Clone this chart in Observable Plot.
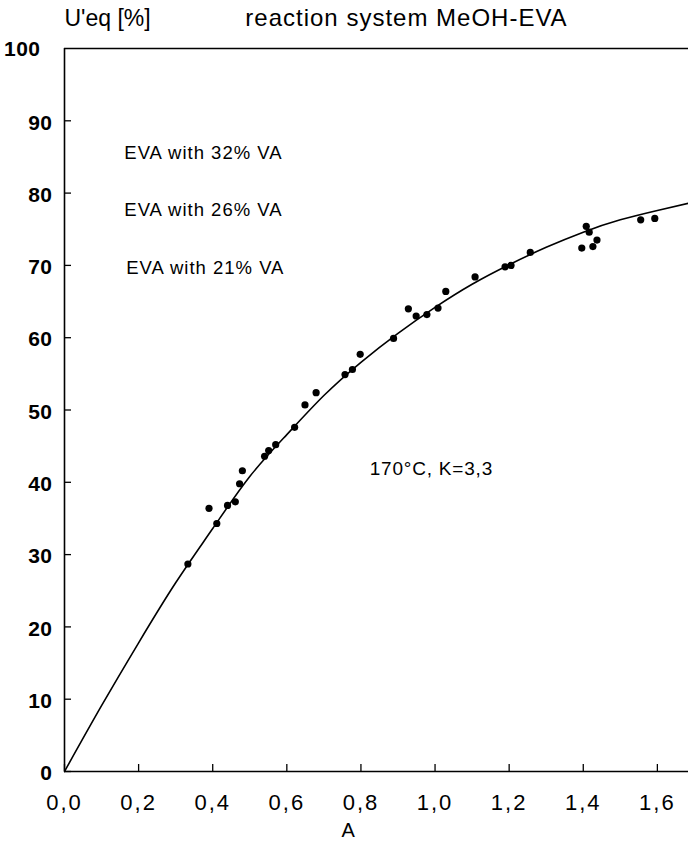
<!DOCTYPE html>
<html>
<head>
<meta charset="utf-8">
<script src="https://cdn.jsdelivr.net/npm/d3@7"></script>
<script src="https://cdn.jsdelivr.net/npm/@observablehq/plot@0.6"></script>
<style>
  html, body { margin: 0; padding: 0; background: #fff; }
  svg { display: block; }
</style>
</head>
<body>
<div id="chart"></div>
<script>
// Measured data points (A, U'eq %)
const pointA = [0.333, 0.39, 0.411, 0.44, 0.461, 0.4725, 0.48, 0.54, 0.551, 0.57, 0.621, 0.649, 0.679,
  0.757, 0.777, 0.798, 0.888, 0.928, 0.949, 0.978, 1.008, 1.029, 1.108, 1.189, 1.205, 1.257,
  1.396, 1.408, 1.416, 1.426, 1.437, 1.555, 1.593];
const pointU = [28.7, 36.4, 34.3, 36.8, 37.3, 39.8, 41.6, 43.6, 44.4, 45.2, 47.6, 50.7, 52.4,
  54.9, 55.6, 57.7, 59.9, 64.0, 63.0, 63.2, 64.1, 66.4, 68.4, 69.8, 70.0, 71.8,
  72.4, 75.4, 74.6, 72.6, 73.5, 76.3, 76.5];

// Fitted curve
const curveA = [0, 0.1, 0.2, 0.3, 0.4, 0.5, 0.6, 0.7, 0.8, 0.9, 1.0, 1.1, 1.2, 1.3, 1.4, 1.5, 1.6, 1.684];
const curveU = [0, 9.1, 17.8, 26.1, 33.6, 40.8, 46.6, 52.0, 56.6, 60.6, 64.2, 67.4, 70.1, 72.5, 74.6, 76.3, 77.6, 78.6];

const xTicks = [0, 0.2, 0.4, 0.6, 0.8, 1.0, 1.2, 1.4, 1.6];
const yTicks = [0, 10, 20, 30, 40, 50, 60, 70, 80, 90];
const yTopTick = [100];

const labels = ["EVA with 32% VA", "EVA with 26% VA", "EVA with 21% VA"];
const labelU = [85.5, 77.6, 69.6];
const labelA = [0.375, 0.375, 0.38];

const points = pointA.map((a, i) => ({a, u: pointU[i]}));
const curve = curveA.map((a, i) => ({a, u: curveU[i]}));
const legend = labels.map((t, i) => ({t, a: labelA[i], u: labelU[i]}));

const fmt = d => d.toFixed(1).replace(".", ",");
const font = "'Liberation Sans', Arial, Helvetica, sans-serif";

const chart = Plot.plot({
  width: 688,
  height: 854,
  marginLeft: 64,
  marginRight: 0,
  marginTop: 48,
  marginBottom: 83,
  style: {fontFamily: font, fontSize: "21px", color: "#000", background: "#fff", overflow: "visible"},
  x: {domain: [0, 1.684]},
  y: {domain: [0, 100]},
  marks: [
    Plot.ruleY([100], {stroke: "#000", strokeWidth: 1.6}),
    Plot.ruleY([0], {stroke: "#000", strokeWidth: 1.6}),
    Plot.ruleX([0], {stroke: "#000", strokeWidth: 1.6}),
    Plot.axisY(yTicks, {anchor: "left", tickSize: -7, strokeWidth: 1.3, text: null, label: null}),
    Plot.axisY(yTicks, {anchor: "left", tickSize: 0, tickPadding: 12, dy: 2, label: null, fontSize: 21, fontWeight: "bold"}),
    Plot.axisY(yTopTick, {anchor: "left", tickSize: 0, tickPadding: 24, dy: 1, label: null, fontSize: 21, fontWeight: "bold"}),
    Plot.axisX(xTicks, {anchor: "bottom", tickSize: -7, strokeWidth: 1.3, text: null, label: null}),
    Plot.axisX(xTicks, {anchor: "bottom", tickSize: 0, tickPadding: 23, tickFormat: fmt, label: null, fontSize: 22}),
    Plot.line(curve, {x: "a", y: "u", stroke: "#000", strokeWidth: 1.6, curve: "natural"}),
    Plot.dot(points, {x: "a", y: "u", r: 3.6, fill: "#000", stroke: "none"}),
    Plot.text(legend, {x: "a", y: "u", text: "t", fontSize: 18.5, fill: "#000"}),
    Plot.text(["170°C, K=3,3"], {x: 0.99, y: 41.9, fontSize: 19, fill: "#000"}),
    Plot.text(["U'eq [%]"], {x: 0, y: 100, dy: -30, textAnchor: "start", fontSize: 23, fill: "#000"}),
    Plot.text(["reaction system MeOH-EVA"], {x: 0.488, y: 100, dy: -30, textAnchor: "start", fontSize: 24, fill: "#000"}),
    Plot.text(["A"], {x: 0.766, y: 0, dy: 59, fontSize: 20, fill: "#000"})
  ]
});
// letter spacing to mimic the wide lettering of the original
const spacing = t => {
  if (t.startsWith("EVA")) return "1px";
  if (t.startsWith("170")) return "0.8px";
  if (t.startsWith("reaction")) return "1px";
  if (t.startsWith("U'eq")) return "0px";
  if (t.includes(",") && t.length === 3) return "2px";
  return "0.5px";
};
chart.querySelectorAll("text").forEach(el => {
  el.style.letterSpacing = spacing(el.textContent);
});
document.getElementById("chart").appendChild(chart);
</script>
</body>
</html>
